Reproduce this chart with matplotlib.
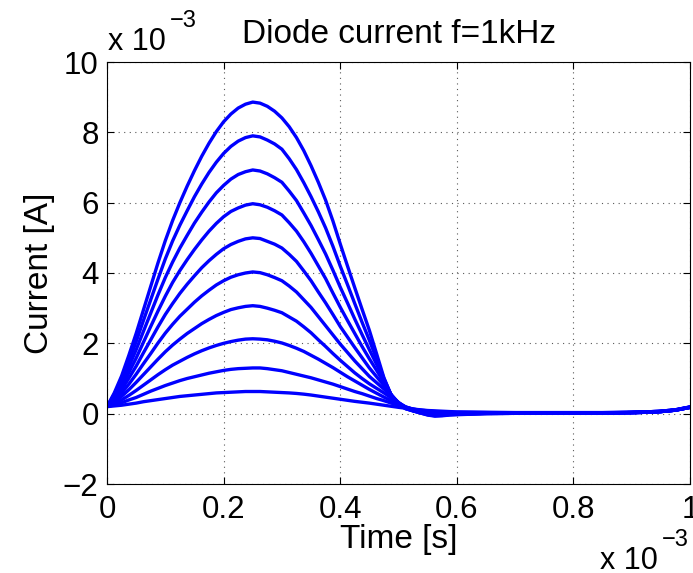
import numpy as np
import matplotlib
matplotlib.use("Agg")
import matplotlib.pyplot as plt

plt.rcParams["font.family"] = ["Liberation Sans", "DejaVu Sans"]

# time in units of 1e-3 s, currents in units of 1e-3 A
t_ms = [0, 0.0125, 0.025, 0.0375, 0.05, 0.0625, 0.075, 0.0875, 0.1, 0.1125,
        0.125, 0.1375, 0.15, 0.1625, 0.175, 0.1875, 0.2, 0.2125, 0.225, 0.2375,
        0.25, 0.2625, 0.275, 0.2875, 0.3, 0.3125, 0.325, 0.3375, 0.35, 0.3625,
        0.375, 0.3875, 0.4, 0.4125, 0.425, 0.4375, 0.45, 0.4625, 0.475, 0.4875,
        0.5, 0.5125, 0.525, 0.5375, 0.55, 0.5625, 0.575, 0.5875, 0.6,
        0.65, 0.7, 0.75, 0.8, 0.85, 0.9, 0.925, 0.95, 0.975, 1.0]

i1 = [0.20, 0.22, 0.24, 0.27, 0.30, 0.34, 0.37, 0.40, 0.43, 0.46,
      0.49, 0.51, 0.53, 0.55, 0.57, 0.59, 0.60, 0.61, 0.62, 0.63,
      0.63, 0.63, 0.62, 0.61, 0.60, 0.59, 0.575, 0.555, 0.53, 0.50,
      0.47, 0.44, 0.41, 0.38, 0.35, 0.325, 0.30, 0.27, 0.24, 0.21,
      0.18, 0.155, 0.13, 0.11, 0.09, 0.08, 0.07, 0.06, 0.05,
      0.04, 0.03, 0.03, 0.03, 0.03, 0.04, 0.05, 0.07, 0.11, 0.19]
i2 = [0.20, 0.25, 0.31, 0.39, 0.46, 0.55, 0.64, 0.72, 0.80, 0.87,
      0.94, 1.00, 1.05, 1.10, 1.15, 1.19, 1.23, 1.26, 1.28, 1.29,
      1.30, 1.30, 1.28, 1.25, 1.22, 1.17, 1.12, 1.07, 1.02, 0.96,
      0.90, 0.84, 0.77, 0.70, 0.63, 0.57, 0.50, 0.43, 0.37, 0.30,
      0.24, 0.18, 0.13, 0.10, 0.08, 0.06, 0.05, 0.04, 0.04,
      0.03, 0.03, 0.03, 0.03, 0.03, 0.04, 0.05, 0.07, 0.11, 0.19]
i3 = [0.20, 0.29, 0.39, 0.52, 0.66, 0.81, 0.96, 1.11, 1.25, 1.38,
      1.49, 1.60, 1.70, 1.79, 1.87, 1.94, 2.00, 2.05, 2.09, 2.12,
      2.13, 2.12, 2.10, 2.06, 2.01, 1.94, 1.86, 1.77, 1.66, 1.55,
      1.43, 1.31, 1.18, 1.05, 0.93, 0.81, 0.69, 0.58, 0.47, 0.37,
      0.28, 0.19, 0.13, 0.09, 0.06, 0.04, 0.03, 0.03, 0.03,
      0.03, 0.02, 0.02, 0.02, 0.02, 0.04, 0.05, 0.07, 0.11, 0.19]
i4 = [0.20, 0.33, 0.49, 0.68, 0.89, 1.11, 1.33, 1.55, 1.76, 1.95,
      2.12, 2.28, 2.42, 2.56, 2.68, 2.79, 2.88, 2.96, 3.01, 3.05,
      3.07, 3.05, 3.00, 2.94, 2.87, 2.75, 2.63, 2.47, 2.30, 2.10,
      1.91, 1.71, 1.52, 1.34, 1.16, 1.00, 0.85, 0.72, 0.59, 0.45,
      0.31, 0.19, 0.12, 0.07, 0.04, 0.02, 0.02, 0.02, 0.02,
      0.02, 0.02, 0.02, 0.02, 0.02, 0.03, 0.04, 0.06, 0.10, 0.18]
i5 = [0.20, 0.37, 0.58, 0.84, 1.12, 1.42, 1.71, 2.01, 2.29, 2.54,
      2.77, 2.97, 3.17, 3.35, 3.51, 3.66, 3.78, 3.88, 3.95, 4.00,
      4.03, 4.01, 3.95, 3.87, 3.78, 3.63, 3.46, 3.24, 3.02, 2.76,
      2.50, 2.24, 1.98, 1.74, 1.50, 1.28, 1.06, 0.88, 0.70, 0.51,
      0.32, 0.18, 0.11, 0.06, 0.02, 0.01, 0.00, 0.01, 0.01,
      0.02, 0.02, 0.02, 0.02, 0.02, 0.03, 0.04, 0.06, 0.10, 0.18]
i6 = [0.20, 0.42, 0.68, 1.01, 1.35, 1.73, 2.10, 2.47, 2.82, 3.13,
      3.42, 3.68, 3.92, 4.15, 4.35, 4.53, 4.69, 4.81, 4.90, 4.97,
      5.00, 4.98, 4.90, 4.82, 4.71, 4.53, 4.33, 4.06, 3.78, 3.46,
      3.15, 2.82, 2.48, 2.18, 1.88, 1.59, 1.30, 1.05, 0.80, 0.54,
      0.31, 0.17, 0.10, 0.05, 0.01, -0.01, -0.01, 0.00, 0.01,
      0.01, 0.01, 0.01, 0.01, 0.02, 0.03, 0.04, 0.06, 0.10, 0.18]
i7 = [0.20, 0.46, 0.78, 1.17, 1.58, 2.03, 2.48, 2.92, 3.34, 3.73,
      4.07, 4.38, 4.67, 4.94, 5.19, 5.41, 5.60, 5.75, 5.85, 5.93,
      5.97, 5.94, 5.87, 5.77, 5.65, 5.43, 5.19, 4.89, 4.56, 4.20,
      3.84, 3.43, 3.03, 2.65, 2.28, 1.91, 1.56, 1.23, 0.89, 0.54,
      0.29, 0.16, 0.09, 0.04, 0.00, -0.03, -0.03, -0.01, 0.00,
      0.01, 0.01, 0.01, 0.01, 0.02, 0.03, 0.04, 0.06, 0.10, 0.18]
i8 = [0.20, 0.50, 0.87, 1.33, 1.82, 2.34, 2.86, 3.38, 3.87, 4.31,
      4.71, 5.07, 5.42, 5.73, 6.02, 6.28, 6.49, 6.67, 6.80, 6.88,
      6.93, 6.90, 6.82, 6.71, 6.58, 6.33, 6.06, 5.71, 5.35, 4.95,
      4.54, 4.08, 3.60, 3.15, 2.69, 2.25, 1.82, 1.40, 0.97, 0.53,
      0.28, 0.15, 0.08, 0.03, -0.02, -0.05, -0.04, -0.02, -0.01,
      0.01, 0.01, 0.01, 0.01, 0.02, 0.03, 0.04, 0.06, 0.10, 0.18]
i9 = [0.20, 0.55, 0.97, 1.49, 2.05, 2.65, 3.24, 3.83, 4.40, 4.91,
      5.36, 5.77, 6.17, 6.53, 6.86, 7.15, 7.40, 7.60, 7.75, 7.85,
      7.90, 7.87, 7.78, 7.67, 7.52, 7.25, 6.94, 6.57, 6.17, 5.74,
      5.28, 4.76, 4.20, 3.67, 3.13, 2.60, 2.09, 1.55, 1.00, 0.52,
      0.27, 0.14, 0.08, 0.02, -0.03, -0.06, -0.05, -0.03, -0.02,
      0.00, 0.01, 0.01, 0.01, 0.02, 0.03, 0.04, 0.06, 0.10, 0.18]
i10 = [0.20, 0.59, 1.07, 1.66, 2.28, 2.95, 3.62, 4.29, 4.92, 5.49,
       6.00, 6.47, 6.91, 7.32, 7.69, 8.02, 8.30, 8.52, 8.69, 8.80,
       8.86, 8.83, 8.74, 8.60, 8.41, 8.16, 7.85, 7.48, 7.05, 6.58,
       6.07, 5.48, 4.83, 4.20, 3.58, 2.97, 2.37, 1.70, 1.02, 0.52,
       0.26, 0.14, 0.08, 0.02, -0.04, -0.07, -0.06, -0.04, -0.03,
       0.00, 0.01, 0.01, 0.01, 0.02, 0.03, 0.04, 0.06, 0.10, 0.18]

currents = [i1, i2, i3, i4, i5, i6, i7, i8, i9, i10]

x_ticks = [0, 0.2, 0.4, 0.6, 0.8, 1]
x_tick_labels = ["0", "0.2", "0.4", "0.6", "0.8", "1"]
y_ticks = [-2, 0, 2, 4, 6, 8, 10]
y_tick_labels = ["\u22122", "0", "2", "4", "6", "8", "10"]

fig = plt.figure(figsize=(6.93, 5.73), dpi=100)
ax = fig.add_axes([107 / 693, 1 - 484 / 573, 583 / 693, 422 / 573])

for cur in currents:
    ax.plot(t_ms, cur, color=(0, 0, 1), linewidth=2.4,
            solid_joinstyle="round", solid_capstyle="round")

ax.set_xlim(0, 1)
ax.set_ylim(-2, 10)
ax.set_xticks(x_ticks)
ax.set_xticklabels(x_tick_labels)
ax.set_yticks(y_ticks)
ax.set_yticklabels(y_tick_labels)
ax.tick_params(direction="in", length=5, width=0.8, labelsize=22.5,
               top=True, right=True)
ax.tick_params(axis="x", pad=8)
ax.tick_params(axis="y", pad=6)
ax.grid(True, linestyle=(0, (1, 4)), color="0.35", linewidth=0.8)
for sp in ax.spines.values():
    sp.set_linewidth(0.8)

ax.set_title("Diode current f=1kHz", fontsize=24, pad=14)
ax.set_xlabel("Time [s]", fontsize=24, labelpad=-1)
ax.set_ylabel("Current [A]", fontsize=24, labelpad=6)

# MATLAB-style exponent labels
fig.text(108 / 693, 1 - 50 / 573, "x 10", fontsize=22, ha="left", va="baseline")
fig.text(170 / 693, 1 - 27 / 573, "\u22123", fontsize=17, ha="left", va="baseline")
fig.text(600 / 693, 1 - 569 / 573, "x 10", fontsize=22, ha="left", va="baseline")
fig.text(662 / 693, 1 - 546 / 573, "\u22123", fontsize=17, ha="left", va="baseline")

fig.savefig("out.png", dpi=100)
